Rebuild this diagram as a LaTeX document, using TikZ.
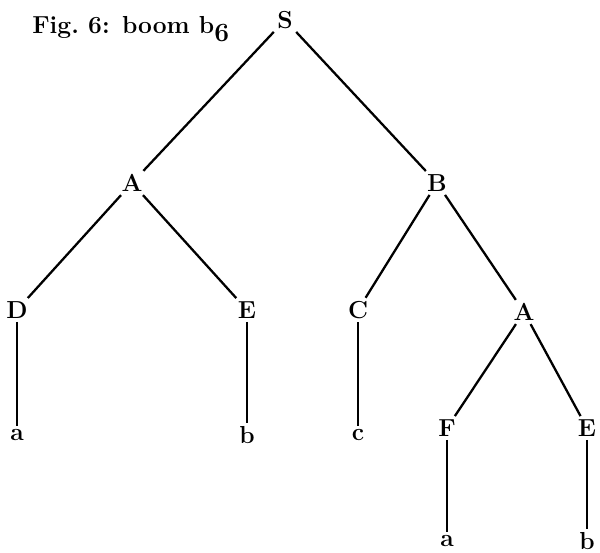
\documentclass[tikz,border=0pt]{standalone}
\usepackage{tikz}
\usetikzlibrary{positioning}

\begin{document}
\begin{tikzpicture}[
font=\fontsize{14}{16}\selectfont\bfseries,
sym/.style={inner sep=2pt, outer sep=0pt},
edge/.style={line width=1.3pt}
]
\useasboundingbox (0,0) rectangle (12,11.06);

% Title
\node[anchor=west, inner sep=0pt] (title) at (0.64,10.48) {Fig.\ 6: boom b\textsubscript{\fontsize{15}{15}\selectfont 6}};

% Inner symbols
\node[sym] (S)  at (5.70,10.66) {S};
\node[sym] (A)  at (2.64,7.40)  {A};
\node[sym] (B)  at (8.74,7.40)  {B};
\node[sym] (D)  at (0.34,4.86)  {D};
\node[sym] (E)  at (4.94,4.86)  {E};
\node[sym] (C)  at (7.16,4.86)  {C};
\node[sym] (A2) at (10.48,4.82) {A};
\node[sym] (F)  at (8.94,2.50)  {F};
\node[sym] (E2) at (11.74,2.50) {E};

% Leaves
\node[sym] (a1) at (0.34,2.36)  {a};
\node[sym] (b1) at (4.94,2.36)  {b};
\node[sym] (c1) at (7.16,2.36)  {c};
\node[sym] (a2) at (8.94,0.24)  {a};
\node[sym] (b2) at (11.74,0.24) {b};

% Edges
\draw[edge] (S) -- (A);
\draw[edge] (S) -- (B);
\draw[edge] (A) -- (D);
\draw[edge] (A) -- (E);
\draw[edge] (B) -- (C);
\draw[edge] (B) -- (A2);
\draw[edge] (A2) -- (F);
\draw[edge] (A2) -- (E2);
\draw[edge] (D) -- (a1);
\draw[edge] (E) -- (b1);
\draw[edge] (C) -- (c1);
\draw[edge] (F) -- (a2);
\draw[edge] (E2) -- (b2);

\end{tikzpicture}
\end{document}
